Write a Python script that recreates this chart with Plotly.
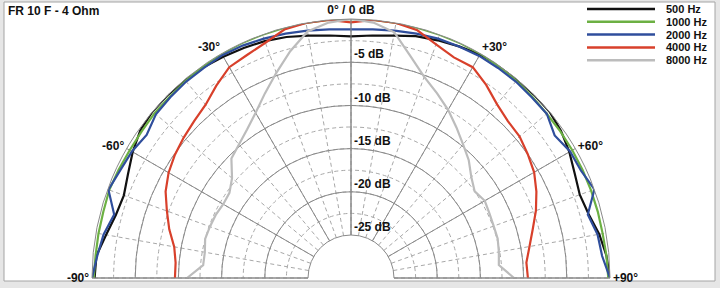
import plotly.graph_objects as go

# ---------------- data ----------------
angles = list(range(-90, 91, 5))  # degrees, 0 = on-axis

series_names = ["500 Hz", "1000 Hz", "2000 Hz", "4000 Hz", "8000 Hz"]
series_colors = ["#111111", "#6cb043", "#2f4e9c", "#d8402b", "#bcbcbc"]

db_500 = [-0.3, -0.4, -1.2, -1.8, -2.0, -1.5, -0.8, -0.2, 0.0, 0.0, -0.1, -0.2, -0.4,
          -0.6, -0.8, -1.1, -1.5, -1.8, -2.0, -1.8, -1.5, -1.0, -0.7, -0.4, -0.1,
          0.0, 0.0, 0.0, 0.0, -0.3, -0.8, -1.4, -1.8, -1.5, -0.8, -0.3, 0.0]
db_1000 = [-0.2, -0.3, -0.3, -0.3, -0.2, -0.3, -0.4, -0.4, -0.3, -0.3, -0.2, -0.1, 0.0,
           0.0, 0.0, 0.0, 0.0, 0.0, 0.0, 0.0, 0.0, 0.0, 0.0, 0.0, 0.0,
           -0.1, -0.2, -0.3, -0.4, -0.4, -0.4, -0.4, -0.4, -0.4, -0.4, -0.3, -0.2]
db_2000 = [0.0, -0.5, -0.9, -1.6, -0.1, -0.5, -0.7, -1.1, -0.5, -0.4, -0.3, -0.3, -0.2,
           -0.3, -0.5, -0.7, -0.9, -1.1, -1.2, -1.1, -0.9, -0.7, -0.5, -0.4, -0.3,
           -0.3, -0.3, -0.4, -0.4, -1.2, -0.7, -0.6, 0.0, -1.6, -1.0, -0.8, 0.0]
db_4000 = [-9.6, -9.6, -9.2, -8.2, -7.3, -6.3, -5.6, -5.1, -4.7, -4.3, -3.8, -2.8, -1.8,
           -1.5, -1.0, -0.2, 0.0, 0.0, -0.4, 0.0, 0.0, -0.3, -1.2, -1.8, -1.8,
           -2.7, -3.7, -4.3, -4.5, -5.0, -5.5, -6.3, -7.2, -8.2, -9.0, -9.6, -9.5]
db_8000 = [-11.0, -12.8, -12.8, -12.5, -12.6, -12.7, -12.9, -12.8, -12.0, -10.4, -9.8, -9.0, -7.9,
           -6.4, -4.7, -2.8, -1.0, -0.3, 0.0, -0.3, -1.1, -3.4, -5.2, -6.4, -7.5,
           -8.7, -9.8, -10.7, -11.8, -12.5, -12.1, -12.3, -12.4, -12.4, -12.6, -12.8, -11.1]
series_values = [db_500, db_1000, db_2000, db_4000, db_8000]

angle_ticks = [-90, -60, -30, 0, 30, 60, 90]
angle_labels = ["-90°", "-60°", "-30°", "0° / 0 dB", "+30°", "+60°", "+90°"]
db_ticks = [-25, -20, -15, -10, -5]
db_labels = ["-25 dB", "-20 dB", "-15 dB", "-10 dB", "-5 dB"]
db_range = [-25, 0]
title_text = "FR 10 F - 4 Ohm"

# ---------------- figure ----------------
W, H = 720, 288
FONT = "Liberation Sans, Arial, sans-serif"
bold12 = dict(family=FONT, size=12, color="#111111", weight="bold")
bold11 = dict(family=FONT, size=11, color="#111111", weight="bold")

cx, cy, R = 351, 278, 259
dom_x = [(cx - R) / W, (cx + R) / W]
dom_y = [1 - cy / H, 1 - (cy - R) / H]
hole = 43 / R

fig = go.Figure()
# empty trace so that the dashed-grid subplot is drawn
fig.add_trace(go.Scatterpolar(r=[], theta=[], mode="lines", subplot="polar",
                              showlegend=False, hoverinfo="skip"))
for name, color, vals in zip(series_names, series_colors, series_values):
    fig.add_trace(go.Scatterpolar(
        r=vals, theta=angles, mode="lines", name=name,
        line=dict(color=color, width=2.2),
        subplot="polar2", showlegend=False,
    ))

solid = "#8a8a8a"
dashed = "#a8a8a8"

fig.update_layout(
    width=W, height=H,
    margin=dict(l=0, r=0, t=0, b=0),
    paper_bgcolor="#e6e6e6",
    plot_bgcolor="white",
    polar=dict(
        domain=dict(x=dom_x, y=dom_y), sector=[0, 180], hole=hole,
        bgcolor="rgba(0,0,0,0)",
        angularaxis=dict(rotation=90, direction="clockwise", tickmode="linear",
                         tick0=0, dtick=10, showgrid=True, gridcolor=dashed,
                         gridwidth=1, griddash="4px,3px", showticklabels=False,
                         ticks="", showline=False),
        radialaxis=dict(range=db_range, tickmode="linear", tick0=0, dtick=2.5,
                        showgrid=True, gridcolor=dashed, gridwidth=1,
                        griddash="4px,3px", showticklabels=False, ticks="",
                        showline=False, angle=90),
    ),
    polar2=dict(
        domain=dict(x=dom_x, y=dom_y), sector=[0, 180], hole=hole,
        bgcolor="rgba(0,0,0,0)",
        angularaxis=dict(rotation=90, direction="clockwise", tickmode="array",
                         tickvals=angle_ticks, ticktext=angle_labels,
                         showgrid=True, gridcolor=solid, gridwidth=1,
                         showline=True, linecolor=solid, linewidth=1,
                         ticks="", tickfont=bold12),
        radialaxis=dict(range=db_range, tickmode="array", tickvals=db_ticks,
                        ticktext=[t + "<br> " for t in db_labels],
                        showgrid=True, gridcolor=solid,
                        gridwidth=1, showline=True, linecolor=solid, linewidth=1,
                        ticks="", tickfont=bold12, angle=90, tickangle=90,
                        side="clockwise"),
    ),
)

shapes = [dict(type="rect", xref="paper", yref="paper",
               x0=4 / W, x1=715 / W, y0=1 - 281 / H, y1=1 - 2 / H,
               fillcolor="white", line=dict(color="#a4a4a4", width=1),
               layer="below")]
annotations = [dict(text=title_text, x=6 / W, y=1 - 11 / H, xref="paper",
                    yref="paper", xanchor="left", yanchor="middle",
                    showarrow=False, font=bold12)]

# legend (top right)
leg_x0, leg_x1, leg_tx, leg_y0, leg_dy = 587, 655, 664, 9, 12.8
for i, (name, color) in enumerate(zip(series_names, series_colors)):
    yy = 1 - (leg_y0 + i * leg_dy) / H
    shapes.append(dict(type="line", xref="paper", yref="paper",
                       x0=leg_x0 / W, x1=leg_x1 / W, y0=yy, y1=yy,
                       line=dict(color=color, width=2.5)))
    annotations.append(dict(text=name, x=leg_tx / W, y=yy, xref="paper",
                            yref="paper", xanchor="left", yanchor="middle",
                            showarrow=False, font=bold11))

fig.update_layout(shapes=shapes, annotations=annotations)
fig.write_html("out.html")
